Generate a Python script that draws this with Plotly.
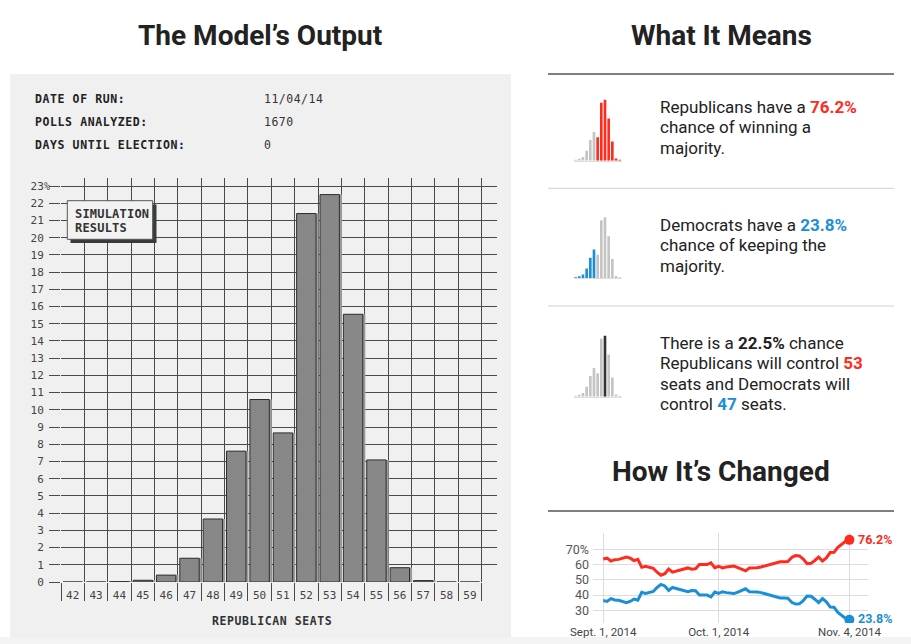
import plotly.graph_objects as go
import pandas as pd

W, H = 911, 644

# ---------------- data ----------------
seats = list(range(42, 60))
seat_labels = [str(s) for s in seats]
probs = [0, 0, 0.02, 0.1, 0.4, 1.38, 3.66, 7.6, 10.6, 8.66, 21.4, 22.5,
         15.55, 7.09, 0.83, 0.08, 0, 0]
y_ticks = list(range(0, 24))
y_ticklabels = [str(v) for v in y_ticks]

header_labels = ["DATE OF RUN:", "POLLS ANALYZED:", "DAYS UNTIL ELECTION:"]
header_values = ["11/04/14", "1670", "0"]

dates = pd.date_range("2014-09-01", "2014-11-04", freq="D")
rep_chance = [63.6, 64.2, 62.3, 63.2, 63.4, 64.0, 65.0, 64.2, 62.6, 63.4,
              58.2, 58.9, 58.4, 57.6, 55.0, 53.0, 54.0, 57.0, 55.0, 55.7,
              56.3, 57.0, 57.8, 57.0, 57.2, 60.0, 60.0, 60.0, 61.2, 58.0,
              58.9, 57.8, 58.4, 58.9, 59.0, 58.0, 57.2, 55.9, 57.8, 57.8,
              58.0, 58.4, 59.0, 60.0, 60.2, 61.0, 61.9, 61.9, 62.0, 64.7,
              65.9, 65.7, 63.6, 60.6, 60.8, 62.7, 64.9, 62.3, 64.4, 67.9,
              68.0, 71.3, 73.2, 75.3, 76.2]
dem_chance = [36.4, 35.8, 37.7, 36.8, 36.6, 36.0, 35.0, 35.8, 37.4, 36.6,
              41.8, 41.1, 41.6, 42.4, 45.0, 47.0, 46.0, 43.0, 45.0, 44.3,
              43.7, 43.0, 42.2, 43.0, 42.8, 40.0, 40.0, 40.0, 38.8, 42.0,
              41.1, 42.2, 41.6, 41.1, 41.0, 42.0, 42.8, 44.1, 42.2, 42.2,
              42.0, 41.6, 41.0, 40.0, 39.8, 39.0, 38.1, 38.1, 38.0, 35.3,
              34.1, 34.3, 36.4, 39.4, 39.2, 37.3, 35.1, 37.7, 35.6, 32.1,
              32.0, 28.7, 26.8, 24.7, 23.8]
line_ticks = ["2014-09-01", "2014-10-01", "2014-11-04"]
line_ticklabels = ["Sept. 1, 2014", "Oct. 1, 2014", "Nov. 4, 2014"]
pct_ticks = [30, 40, 50, 60, 70]
pct_ticklabels = ["30", "40", "50", "60", "70%"]

# ---------------- styles ----------------
RED = "#ff2b1c"
BLUE = "#1b8fd6"
GRAY = "#c4c4c4"
DARK = "#333333"
GRID = "#4a4a4a"
MONO = "DejaVu Sans Mono"
SANS = "Roboto"

block_lines = [
    [f'Republicans have a <b><span style="color:{RED}">76.2%</span></b>',
     'chance of winning a', 'majority.'],
    [f'Democrats have a <b><span style="color:{BLUE}">23.8%</span></b>',
     'chance of keeping the', 'majority.'],
    ['There is a <b>22.5%</b> chance',
     f'Republicans will control <b><span style="color:{RED}">53</span></b>',
     'seats and Democrats will',
     f'control <b><span style="color:{BLUE}">47</span></b> seats.'],
]
block_first_y = [107, 225, 343]


def fx(px):
    return px / W


def fy(px):
    return 1 - px / H


def spaced(t, sp=1.2):
    return f'<span style="letter-spacing:{sp}px">{t}</span>'


fig = go.Figure()

# shadow bars (base axis)
fig.add_trace(go.Bar(x=seats, y=probs, xaxis="x", yaxis="y", width=0.83,
                     offset=-0.415 + 0.11, marker=dict(color="#9c9c9c", line=dict(width=0)),
                     hoverinfo="skip"))
# main textured bars (overlay axis, drawn on top)
fig.add_trace(go.Bar(x=seats, y=probs, xaxis="x2", yaxis="y", width=0.83, offset=-0.415,
                     marker=dict(color="#c8c8c8",
                                 pattern=dict(shape=".", fgcolor="#141414", bgcolor="#c8c8c8",
                                              size=2, solidity=0.72),
                                 line=dict(color="#2e2e2e", width=1))))

# mini histograms
mini_sets = [
    ("x3", "y3", [RED if s >= 51 else GRAY for s in seats]),
    ("x4", "y4", [BLUE if s <= 50 else GRAY for s in seats]),
    ("x5", "y5", [DARK if s == 53 else GRAY for s in seats]),
]
for xa, ya, cols in mini_sets:
    fig.add_trace(go.Bar(x=seats, y=probs, xaxis=xa, yaxis=ya, width=0.72,
                         marker=dict(color=cols, line=dict(width=0))))

# line chart
fig.add_trace(go.Scatter(x=dates, y=rep_chance, xaxis="x6", yaxis="y6", mode="lines",
                         line=dict(color=RED, width=3)))
fig.add_trace(go.Scatter(x=dates, y=dem_chance, xaxis="x6", yaxis="y6", mode="lines",
                         line=dict(color=BLUE, width=3)))
fig.add_trace(go.Scatter(x=[dates[-1], dates[-1]], y=[rep_chance[-1], dem_chance[-1]],
                         xaxis="x6", yaxis="y6", mode="markers",
                         marker=dict(color=[RED, BLUE], size=10)))

half_ticks = [s - 0.5 for s in seats] + [seats[-1] + 0.5]

layout = dict(
    width=W, height=H, margin=dict(l=0, r=0, t=0, b=0, pad=0, autoexpand=False),
    paper_bgcolor="white", plot_bgcolor="rgba(0,0,0,0)",
    showlegend=False, barmode="overlay",
    xaxis=dict(domain=[fx(61), fx(497)], range=[41.5, 60.16], anchor="y", automargin=False,
               tickmode="array", tickvals=half_ticks, showticklabels=False,
               ticks="outside", ticklen=18, tickcolor=GRID, tickwidth=1.3,
               showgrid=True, gridcolor=GRID, gridwidth=1.3, zeroline=False, fixedrange=True),
    xaxis2=dict(overlaying="x", anchor="y", range=[41.5, 60.16], tickmode="array", automargin=False,
                tickvals=seats, ticktext=seat_labels, ticks="", showgrid=False, zeroline=False,
                tickfont=dict(family=MONO, size=11, color="#444"), ticklabelstandoff=5,
                fixedrange=True),
    yaxis=dict(domain=[fy(582), fy(178)], range=[0, 23.465], anchor="x", automargin=False,
               tickmode="array", tickvals=y_ticks, ticktext=y_ticklabels,
               ticks="outside", ticklen=11, tickcolor=GRID, tickwidth=1.3,
               showgrid=True, gridcolor=GRID, gridwidth=1.3, zeroline=False,
               tickfont=dict(family=MONO, size=11, color="#444"), ticklabelstandoff=3,
               fixedrange=True),
)

mini_base = [160.7, 278.3, 396.7]
for i, base in enumerate(mini_base):
    n = i + 3
    layout[f"xaxis{n}"] = dict(domain=[fx(573.8), fx(621.5)], range=[44.5, 57.5], anchor=f"y{n}",
                               showticklabels=False, showgrid=False, zeroline=False,
                               showline=True, linecolor="#dddddd", linewidth=1, ticks="",
                               automargin=False, fixedrange=True)
    layout[f"yaxis{n}"] = dict(domain=[fy(base), fy(base - 65)], range=[0, 24], anchor=f"x{n}",
                               visible=False, automargin=False, fixedrange=True)

layout["xaxis6"] = dict(domain=[fx(593), fx(868)], anchor="y6", type="date", automargin=False,
                        range=["2014-08-29 08:00", "2014-11-08 20:00"],
                        tickmode="array", tickvals=line_ticks, ticktext=line_ticklabels,
                        showgrid=True, gridcolor="#dcdcdc", gridwidth=1, zeroline=False, ticks="",
                        tickfont=dict(family=SANS, size=11.5, color="#444"), ticklabelstandoff=0,
                        fixedrange=True)
layout["yaxis6"] = dict(domain=[fy(623), fy(533)], anchor="x6", range=[21.7, 80.7], automargin=False,
                        tickmode="array", tickvals=pct_ticks, ticktext=pct_ticklabels,
                        showgrid=True, gridcolor="#dcdcdc", gridwidth=1, zeroline=False, ticks="",
                        tickfont=dict(family=SANS, size=12.5, color="#555"), ticklabelstandoff=3,
                        fixedrange=True)

fig.update_layout(**layout)

# ---------------- shapes ----------------
shapes = [
    dict(type="rect", xref="paper", yref="paper", x0=0, x1=1, y0=fy(644), y1=fy(637),
         fillcolor="#f4f4f4", line=dict(width=0), layer="below"),
    dict(type="rect", xref="paper", yref="paper", x0=fx(10), x1=fx(511), y0=fy(638), y1=fy(74),
         fillcolor="#f0f0f0", line=dict(width=0), layer="below"),
    # separators on the right
    dict(type="line", xref="paper", yref="paper", x0=fx(548), x1=fx(894), y0=fy(74), y1=fy(74),
         line=dict(color="#555", width=1.5)),
    dict(type="line", xref="paper", yref="paper", x0=fx(548), x1=fx(894), y0=fy(188.3), y1=fy(188.3),
         line=dict(color="#cfcfcf", width=1)),
    dict(type="line", xref="paper", yref="paper", x0=fx(548), x1=fx(894), y0=fy(306), y1=fy(306),
         line=dict(color="#cfcfcf", width=1)),
    dict(type="line", xref="paper", yref="paper", x0=fx(548), x1=fx(894), y0=fy(511), y1=fy(511),
         line=dict(color="#555", width=1.5)),
    # simulation results box with shadow
    dict(type="rect", xref="paper", yref="paper", x0=fx(70.5), x1=fx(156.5), y0=fy(243), y1=fy(204.5),
         fillcolor="#3a3a3a", line=dict(width=0), layer="above"),
    dict(type="rect", xref="paper", yref="paper", x0=fx(67.3), x1=fx(152.7), y0=fy(239.3), y1=fy(200.7),
         fillcolor="#f2f2f2", line=dict(color="#555", width=1), layer="above"),
]
fig.update_layout(shapes=shapes)

# ---------------- annotations ----------------
ann = []


def add_text(text, x, y, size, color="#222", family=SANS, xanchor="center", yanchor="middle",
             align="left"):
    ann.append(dict(text=text, x=fx(x), y=fy(y), xref="paper", yref="paper", showarrow=False,
                    xanchor=xanchor, yanchor=yanchor, align=align,
                    font=dict(family=family, size=size, color=color)))


add_text("<b>The Model’s Output</b>", 260, 35, 28)
add_text("<b>What It Means</b>", 721, 35, 28)
add_text("<b>How It’s Changed</b>", 721, 471, 28)

for i, (lab, val) in enumerate(zip(header_labels, header_values)):
    yy = 99 + i * 23
    add_text("<b>" + spaced(lab, 0.6) + "</b>", 33, yy, 11.5, "#222", MONO, xanchor="left")
    add_text(spaced(val, 0.5), 262, yy, 11.5, "#333", MONO, xanchor="left")

add_text("<b>" + spaced("REPUBLICAN SEATS", 0.6) + "</b>", 272, 621, 11.5, "#333", MONO)
add_text("<b>" + spaced("SIMULATION", 0.2) + "</b>", 72.5, 213.5, 12, "#333", MONO, xanchor="left")
add_text("<b>" + spaced("RESULTS", 0.2) + "</b>", 72.5, 227.5, 12, "#333", MONO, xanchor="left")
add_text("%", 41.5, 186.5, 10, "#444", MONO, xanchor="left")

for lines, y0 in zip(block_lines, block_first_y):
    for j, line in enumerate(lines):
        add_text(line, 658, y0 + j * 20.4, 17, xanchor="left")

ann.append(dict(x=dates[-1], y=rep_chance[-1], xref="x6", yref="y6", showarrow=False,
                xanchor="left", xshift=7, text=f"<b>{rep_chance[-1]:.1f}%</b>",
                font=dict(family=SANS, size=12.5, color=RED)))
ann.append(dict(x=dates[-1], y=dem_chance[-1], xref="x6", yref="y6", showarrow=False,
                xanchor="left", xshift=7, yshift=1, text=f"<b>{dem_chance[-1]:.1f}%</b>",
                font=dict(family=SANS, size=12.5, color=BLUE)))

fig.update_layout(annotations=ann)

fig.write_html("out.html", config={"displayModeBar": False},
               post_script="document.body.style.margin='0';document.body.style.overflow='hidden';")
